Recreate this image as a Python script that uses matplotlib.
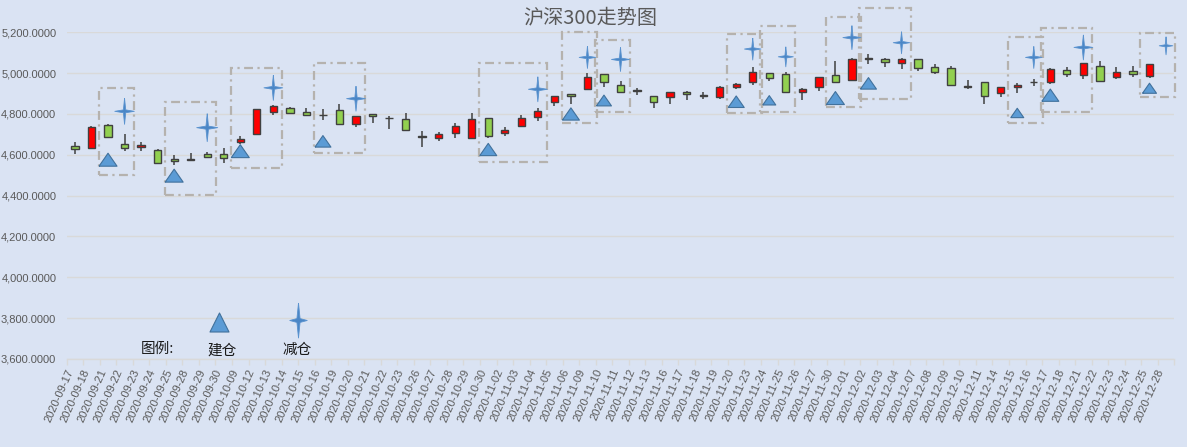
import numpy as np
import matplotlib
matplotlib.use('Agg')
import matplotlib.pyplot as plt
from matplotlib.patches import Rectangle
from matplotlib.ticker import FuncFormatter

plt.rcParams['font.family'] = ['Liberation Sans', 'Noto Sans CJK SC', 'DejaVu Sans']

dates = ['2020-09-17', '2020-09-18', '2020-09-21', '2020-09-22', '2020-09-23', '2020-09-24', '2020-09-25',
         '2020-09-28', '2020-09-29', '2020-09-30',
         '2020-10-09', '2020-10-12', '2020-10-13', '2020-10-14', '2020-10-15', '2020-10-16', '2020-10-19',
         '2020-10-20', '2020-10-21', '2020-10-22', '2020-10-23', '2020-10-26', '2020-10-27', '2020-10-28',
         '2020-10-29', '2020-10-30',
         '2020-11-02', '2020-11-03', '2020-11-04', '2020-11-05', '2020-11-06', '2020-11-09', '2020-11-10',
         '2020-11-11', '2020-11-12', '2020-11-13', '2020-11-16', '2020-11-17', '2020-11-18', '2020-11-19',
         '2020-11-20', '2020-11-23', '2020-11-24', '2020-11-25', '2020-11-26', '2020-11-27', '2020-11-30',
         '2020-12-01', '2020-12-02', '2020-12-03', '2020-12-04', '2020-12-07', '2020-12-08', '2020-12-09',
         '2020-12-10', '2020-12-11', '2020-12-14', '2020-12-15', '2020-12-16', '2020-12-17', '2020-12-18',
         '2020-12-21', '2020-12-22', '2020-12-23', '2020-12-24', '2020-12-25', '2020-12-28']

nan = np.nan
opens = [4641, 4635, 4748, 4654, 4640, 4625, 4580, 4577, 4605, 4605,
         4662, 4703, 4810, 4831, 4812, 4797, 4821, 4753, 4802, 4781, 4774, 4690, 4680, 4705, 4684, 4779,
         4705, 4743, 4784, 4861, 4897, 4921, 4995, 4941, 4916, 4887, 4882, 4907, 4891, 4882, 4931, 4956,
         5000, 4995, 4910, 4930, 4993,
         4964, 5070, 5067, 5048, 5067, 5028, 5023, 4930, 4959, 4905, 4930, 4956, 4959, 5013, 4993, 5033,
         4979, 5010, 4984, nan]
highs = [4662, 4739, 4753, 4703, 4662, 4628, 4600, 4608, 4613, 4633,
         4694, 4823, 4846, 4835, 4831, 4826, 4851, 4792, 4802, 4789, 4803, 4716, 4710, 4754, 4803, 4779,
         4738, 4793, 4828, 4887, 4897, 5000, 4995, 4961, 4926, 4887, 4907, 4913, 4910, 4938, 4951, 5030,
         5000, 5007, 4925, 4979, 5057,
         5072, 5093, 5072, 5075, 5067, 5043, 5033, 4964, 4959, 4934, 4954, 4969, 5026, 5028, 5048, 5057,
         5028, 5033, 5043, nan]
lows = [4602, 4631, 4687, 4618, 4621, 4559, 4551, 4571, 4587, 4559,
        4654, 4703, 4794, 4798, 4795, 4769, 4748, 4736, 4756, 4725, 4718, 4639, 4669, 4684, 4679, 4684,
        4694, 4734, 4767, 4839, 4848, 4921, 4931, 4902, 4892, 4828, 4849, 4866, 4872, 4872, 4921, 4943,
        4962, 4908, 4867, 4913, 4959,
        4964, 5044, 5031, 5018, 5012, 4998, 4944, 4920, 4851, 4884, 4905, 4938, 4949, 4979, 4969, 4957,
        4969, 4979, 4974, nan]
closes = [4630, 4736, 4689, 4635, 4649, 4561, 4571, 4580, 4590, 4585,
          4679, 4823, 4838, 4805, 4797, 4795, 4753, 4792, 4792, 4779, 4720, 4688, 4700, 4739, 4774, 4694,
          4720, 4779, 4815, 4887, 4889, 4980, 4956, 4907, 4914, 4857, 4907, 4897, 4889, 4930, 4946, 5005,
          4975, 4908, 4921, 4979, 4959,
          5067, 5072, 5056, 5067, 5023, 5008, 4944, 4939, 4890, 4934, 4944, 4958, 5018, 4998, 5048, 4962,
          5008, 4998, 5043, nan]

# 建仓 (triangles)
buy_dates = ['2020-09-21', '2020-09-25', '2020-10-09', '2020-10-16', '2020-10-30', '2020-11-06', '2020-11-10',
             '2020-11-20', '2020-11-24', '2020-11-30', '2020-12-02', '2020-12-15', '2020-12-17', '2020-12-25']
buy_values = [4576, 4498, 4618, 4666, 4626, 4800, 4866, 4860, 4867, 4878, 4950, 4805, 4892, 4926]

# 减仓 (stars)
sell_dates = ['2020-09-22', '2020-09-29', '2020-10-13', '2020-10-20', '2020-11-04', '2020-11-09', '2020-11-11',
              '2020-11-23', '2020-11-25', '2020-12-01', '2020-12-04', '2020-12-16', '2020-12-21', '2020-12-28']
sell_values = [4813, 4733, 4928, 4875, 4921, 5077, 5067, 5118, 5080, 5174, 5149, 5077, 5126, 5134]

# dashed frames: first date, last date, low, high
box_start = ['2020-09-21', '2020-09-25', '2020-10-09', '2020-10-16', '2020-10-30', '2020-11-06', '2020-11-10',
             '2020-11-20', '2020-11-24', '2020-11-30', '2020-12-02', '2020-12-15', '2020-12-17', '2020-12-25']
box_end = ['2020-09-22', '2020-09-29', '2020-10-13', '2020-10-20', '2020-11-04', '2020-11-09', '2020-11-11',
           '2020-11-23', '2020-11-25', '2020-12-01', '2020-12-04', '2020-12-16', '2020-12-21', '2020-12-28']
box_low = [4503, 4405, 4533, 4611, 4567, 4758, 4808, 4805, 4810, 4833, 4872, 4758, 4808, 4882]
box_high = [4926, 4857, 5024, 5049, 5049, 5201, 5162, 5190, 5231, 5275, 5320, 5177, 5221, 5197]

# marker sizes in px (vary a little in the original)
buy_w = [18, 18, 18, 16, 17, 17, 15, 16, 13, 18, 16, 13, 17, 14]
sell_h = [26, 28, 25, 25, 25, 22, 24, 22, 20, 24, 22, 22, 25, 18]

bg = '#DAE3F3'
grid_c = '#D9D9D9'
txt_c = '#595959'
edge_c = '#404040'

fig = plt.figure(figsize=(11.87, 4.47), dpi=100, facecolor=bg)
ax = fig.add_axes([66.7 / 1187, 1 - 359 / 447, 1107.6 / 1187, 326.7 / 447])
ax.set_facecolor(bg)

x = np.arange(len(dates))
pos = {d: i for i, d in enumerate(dates)}
o, h, l, c = map(np.array, (opens, highs, lows, closes))
ok = ~np.isnan(o)

# candles
ax.vlines(x[ok], l[ok], h[ok], color=edge_c, lw=1.1, zorder=2)
up = c >= o
cols = np.where(up, '#FF0000', '#92D050')
ax.bar(x[ok], np.abs(c - o)[ok], bottom=np.minimum(o, c)[ok], width=0.44,
       color=cols[ok], edgecolor=edge_c, linewidth=1.0, zorder=3)

# frames
for s, e, lo, hi in zip(box_start, box_end, box_low, box_high):
    r = Rectangle((pos[s] - 0.55, lo), pos[e] - pos[s] + 1.1, hi - lo, fill=False,
                  edgecolor='#B5B2AE', lw=1.6, linestyle=(0, (4, 2, 1, 2)), zorder=4, clip_on=False)
    ax.add_patch(r)

tri = [(-1, -0.72), (1, -0.72), (0, 0.72), (-1, -0.72)]


def star(wr):
    return [(0, 1), (0.09, 0.11), (wr, 0), (0.09, -0.11), (0, -1), (-0.09, -0.11), (-wr, 0),
            (-0.09, 0.11), (0, 1)]


px2pt = 0.72
ax.scatter([pos[d] for d in buy_dates], buy_values, s=(np.array(buy_w) * px2pt) ** 2, marker=tri,
           facecolor='#5B9BD5', edgecolor='#41719C', linewidths=0.8, zorder=5, clip_on=False)
ax.scatter([pos[d] for d in sell_dates], sell_values, s=(np.array(sell_h) * px2pt) ** 2, marker=star(0.75),
           facecolor='#4A86C6', edgecolor='#5B93CF', linewidths=0.6, zorder=5, clip_on=False)

# legend block
cjk = ['Noto Sans CJK SC', 'DejaVu Sans']
ax.text(0.082, 0.03, '图例:', transform=ax.transAxes, ha='center', va='center', fontsize=10.5,
        family=cjk, color='#1A1A1A')
ax.scatter([0.1375], [0.112], transform=ax.transAxes, marker='^', s=(19 * px2pt) ** 2,
           facecolor='#5B9BD5', edgecolor='#41719C', linewidths=0.8, zorder=5, clip_on=False)
ax.text(0.140, 0.027, '建仓', transform=ax.transAxes, ha='center', va='center', fontsize=10.5,
        family=cjk, color='#1A1A1A')
ax.scatter([0.209], [0.118], transform=ax.transAxes, marker=star(0.5), s=(35 * px2pt) ** 2,
           facecolor='#4A86C6', edgecolor='#5B93CF', linewidths=0.6, zorder=5, clip_on=False)
ax.text(0.208, 0.027, '减仓', transform=ax.transAxes, ha='center', va='center', fontsize=10.5,
        family=cjk, color='#1A1A1A')

# axes styling
ax.set_xlim(-0.5, len(dates) - 0.5)
ax.set_ylim(3600, 5200)
ax.set_yticks(np.arange(3600, 5201, 200))
ax.yaxis.set_major_formatter(FuncFormatter(lambda v, p: '{:,.4f}'.format(v)))
ax.grid(axis='y', color=grid_c, lw=1, zorder=0)
ax.set_axisbelow(True)
for sp in ['top', 'right', 'left']:
    ax.spines[sp].set_visible(False)
ax.spines['bottom'].set_color(grid_c)
ax.spines['bottom'].set_linewidth(1)
ax.tick_params(axis='y', length=0, pad=7.5, labelsize=8, labelcolor=txt_c)

ax.set_xticks(x)
ax.set_xticklabels(dates, rotation=66, ha='right', fontsize=8, color=txt_c)
ax.tick_params(axis='x', which='major', length=0, pad=6)
ax.set_xticks(np.arange(-0.5, len(dates), 1), minor=True)
ax.tick_params(axis='x', which='minor', length=4, color=grid_c, width=1)

fig.text(590 / 1187, 1 - 19 / 447, '沪深300走势图', ha='center', va='center', fontsize=14.5,
         family=cjk, color=txt_c)

fig.savefig('out.png', dpi=100, facecolor=bg)
